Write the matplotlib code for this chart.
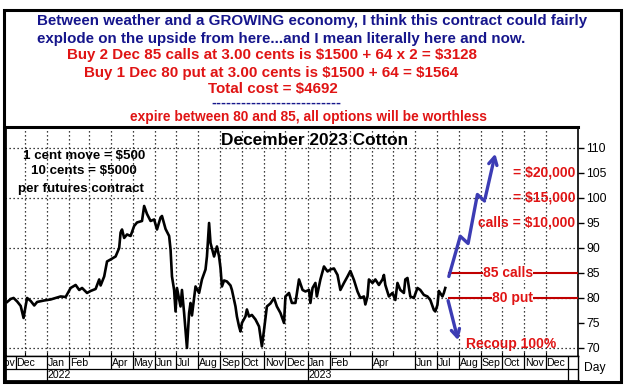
import numpy as np
import matplotlib
matplotlib.use("Agg")
import matplotlib.pyplot as plt
from matplotlib.patches import Rectangle

plt.rcParams['font.family'] = ['Liberation Sans', 'DejaVu Sans']
plt.rcParams['text.parse_math'] = False  # lots of $ signs in the labels

#~~~~~~~~~~~~~~~~~~~~~~~~~~~~~~~~~~~~~~~~~~~~~
# data (Dec 2023 cotton, cents/lb)
#~~~~~~~~~~~~~~~~~~~~~~~~~~~~~~~~~~~~~~~~~~~~~
price_dates = [
    '2021-11-06', '2021-11-11', '2021-11-15', '2021-11-20', '2021-11-25', '2021-11-29',
    '2021-12-02', '2021-12-04', '2021-12-09', '2021-12-14', '2021-12-18', '2021-12-28',
    '2022-01-06', '2022-01-13', '2022-01-20', '2022-01-27', '2022-02-03', '2022-02-10',
    '2022-02-15', '2022-02-19', '2022-02-26', '2022-03-03', '2022-03-10', '2022-03-15',
    '2022-03-17', '2022-03-22', '2022-03-26', '2022-03-31', '2022-04-07', '2022-04-12',
    '2022-04-14', '2022-04-16', '2022-04-19', '2022-04-23', '2022-04-28', '2022-05-03',
    '2022-05-07', '2022-05-14', '2022-05-17', '2022-05-21', '2022-05-26', '2022-05-31',
    '2022-06-04', '2022-06-09', '2022-06-11', '2022-06-16', '2022-06-21', '2022-06-23',
    '2022-06-25', '2022-06-28', '2022-06-30', '2022-07-02', '2022-07-07', '2022-07-09',
    '2022-07-12', '2022-07-14', '2022-07-16', '2022-07-19', '2022-07-21', '2022-07-23',
    '2022-07-28', '2022-08-02', '2022-08-06', '2022-08-11', '2022-08-13', '2022-08-16',
    '2022-08-18', '2022-08-23', '2022-08-27', '2022-08-30', '2022-09-01', '2022-09-03',
    '2022-09-06', '2022-09-10', '2022-09-15', '2022-09-17', '2022-09-20', '2022-09-22',
    '2022-09-24', '2022-09-27', '2022-09-29', '2022-10-01', '2022-10-06', '2022-10-08',
    '2022-10-11', '2022-10-15', '2022-10-20', '2022-10-25', '2022-10-29', '2022-11-01',
    '2022-11-05', '2022-11-10', '2022-11-15', '2022-11-19', '2022-11-24', '2022-11-29',
    '2022-12-01', '2022-12-06', '2022-12-10', '2022-12-15', '2022-12-20', '2022-12-25',
    '2022-12-29', '2023-01-03', '2023-01-05', '2023-01-08', '2023-01-12', '2023-01-14',
    '2023-01-19', '2023-01-24', '2023-01-29', '2023-02-02', '2023-02-07', '2023-02-12',
    '2023-02-16', '2023-02-21', '2023-02-26', '2023-03-02', '2023-03-07', '2023-03-12',
    '2023-03-16', '2023-03-21', '2023-03-23', '2023-03-26', '2023-03-28', '2023-04-02',
    '2023-04-06', '2023-04-11', '2023-04-16', '2023-04-18', '2023-04-20', '2023-04-25',
    '2023-04-30', '2023-05-04', '2023-05-07', '2023-05-11', '2023-05-16', '2023-05-18',
    '2023-05-21', '2023-05-25', '2023-05-30', '2023-06-04', '2023-06-08', '2023-06-13',
    '2023-06-18', '2023-06-22', '2023-06-27', '2023-06-29', '2023-07-02', '2023-07-04',
    '2023-07-09', '2023-07-11', '2023-07-13']
price_vals = [
    79.2, 79.8, 80.0, 79.3, 78.4, 76.0,
    78.5, 80.0, 79.4, 78.5, 79.2, 79.5,
    79.7, 80.0, 80.3, 80.2, 82.0, 82.6,
    81.6, 82.0, 81.0, 81.4, 81.8, 83.7,
    82.5, 84.3, 87.3, 87.7, 88.3, 90.0,
    93.1, 93.7, 92.0, 92.7, 92.4, 94.4,
    95.1, 95.4, 98.4, 96.8, 95.4, 95.7,
    93.7, 96.1, 96.4, 93.8, 92.4, 89.7,
    84.3, 81.6, 77.3, 82.0, 78.3, 81.6,
    77.0, 73.6, 70.0, 77.0, 79.0, 76.5,
    82.3, 81.0, 83.7, 85.7, 88.3, 95.0,
    91.0, 88.3, 90.3, 88.3, 86.0, 82.3,
    83.5, 83.3, 82.5, 81.6, 79.6, 78.3,
    76.3, 74.3, 73.3, 75.0, 76.3, 77.7,
    76.3, 76.6, 75.7, 74.3, 70.3, 73.6,
    78.3, 78.9, 80.0, 78.3, 77.0, 75.0,
    80.3, 81.0, 79.0, 79.0, 83.7, 81.6,
    81.3, 81.6, 79.0, 82.0, 83.0, 80.3,
    83.7, 86.3, 85.3, 85.7, 85.9, 84.6,
    81.6, 83.0, 84.3, 85.4, 83.6, 81.3,
    80.0, 80.3, 78.7, 80.3, 83.7, 83.0,
    83.7, 82.6, 83.7, 84.6, 82.6, 80.3,
    81.0, 79.6, 83.0, 81.6, 81.0, 83.7,
    84.0, 80.3, 80.0, 82.0, 81.6, 80.6,
    80.3, 79.6, 77.6, 77.3, 78.6, 81.4,
    80.3, 81.0, 82.0]

# hand drawn arrows
up_dates = ['2023-07-18', '2023-08-03', '2023-08-14', '2023-08-27', '2023-09-06', '2023-09-22']
up_vals = [84.3, 92.35, 90.9, 100.7, 99.4, 109.4]
down_dates = ['2023-07-16', '2023-08-01']
down_vals = [80.0, 71.0]

strikes = [85, 80]
strike_labels = ['85 calls', '80 put']
strike_start = '2023-07-18'

payoff_levels = [105, 100, 95]
payoff_labels = ['= $20,000', '= $15,000', 'calls = $10,000']

month_starts = ['2021-11-18', '2022-01-01', '2022-02-01', '2022-04-01', '2022-05-01',
                '2022-06-01', '2022-07-01', '2022-08-01', '2022-09-01', '2022-10-01',
                '2022-11-01', '2022-12-01', '2023-01-01', '2023-02-01', '2023-04-01',
                '2023-06-01', '2023-07-01', '2023-08-01', '2023-09-01', '2023-10-01',
                '2023-11-01', '2023-12-01']
month_names = ['Dec', 'Jan', 'Feb', 'Apr', 'May', 'Jun', 'Jul', 'Aug', 'Sep', 'Oct',
               'Nov', 'Dec', 'Jan', 'Feb', 'Apr', 'Jun', 'Jul', 'Aug', 'Sep', 'Oct',
               'Nov', 'Dec']
year_starts = ['2022-01-01', '2023-01-01']
year_names = ['2022', '2023']

header = [
    ('Between weather and a GROWING economy, I think this contract could fairly', 37, 20.5, '#16168c', 10.9),
    ('explode on the upside from here...and I mean literally here and now.', 37, 38.5, '#16168c', 10.9),
    ('Buy 2 Dec 85 calls at 3.00 cents is $1500 + 64 x 2 = $3128', 67, 55.5, '#e01414', 10.9),
    ('Buy 1 Dec 80 put at 3.00 cents is $1500 + 64 = $1564', 84, 73, '#e01414', 10.9),
    ('Total cost = $4692', 208, 89.5, '#e01414', 10.9),
    ('-' * 26, 211, 102.5, '#16168c', 10.5),
    ('expire between 80 and 85, all options will be worthless', 130, 117, '#e01414', 9.9),
]
notes = ['1 cent move = $500', '10 cents = $5000', 'per futures contract']

W, H = 626, 388
d = lambda s: np.array(s, dtype='datetime64[D]')

fig = plt.figure(figsize=(W / 100, H / 100), dpi=100)
fig.patch.set_facecolor('white')

# main price panel
L, R, T, B = 5, 578, 127, 356
ax = fig.add_axes([L / W, (H - B) / H, (R - L) / W, (B - T) / H])
ax.set_xlim(d('2021-11-03'), d('2024-01-15'))
ax.set_ylim(68.39, 114.2)

grid_months = np.arange(np.datetime64('2021-12'), np.datetime64('2024-01'), dtype='datetime64[M]').astype('datetime64[D]')
for g in grid_months:
    ax.axvline(g, color='black', lw=0.9, ls=(0, (1, 2.2)), zorder=1)
for y in range(70, 111, 10):
    ax.axhline(y, color='black', lw=0.9, ls=(0, (1, 2.2)), zorder=1)

ax.plot(d(price_dates), price_vals, color='black', lw=1.9, zorder=3)

# strike lines
for k, lab in zip(strikes, strike_labels):
    ax.plot([d(strike_start), d('2024-01-15')], [k, k], color='#c00000', lw=1.5, zorder=4)
    ax.text(d('2023-11-13'), k, lab, ha='right', va='center', color='#e01414',
            fontsize=10, fontweight='bold', zorder=5,
            bbox=dict(fc='white', ec='none', pad=0.3))

for lvl, lab in zip(payoff_levels, payoff_labels):
    ax.text(0.995, lvl, lab, transform=ax.get_yaxis_transform(), ha='right', va='center',
            color='#e01414', fontsize=10, fontweight='bold', zorder=5)
ax.text(d('2023-08-11'), 70.8, 'Recoup 100%', ha='left', va='center', color='#e01414',
        fontsize=10, fontweight='bold', zorder=5)

# arrows
blue = '#3c3cb4'
ax.plot(d(up_dates[:-1]), up_vals[:-1], color=blue, lw=2.4, zorder=6, solid_capstyle='round')
ax.annotate('', xy=(d(up_dates[-1]), up_vals[-1]), xytext=(d(up_dates[-2]), up_vals[-2]),
            arrowprops=dict(arrowstyle='->,head_length=0.55,head_width=0.3', color=blue, lw=2.4),
            zorder=6)
ax.annotate('', xy=(d(down_dates[-1]), down_vals[-1]), xytext=(d(down_dates[0]), down_vals[0]),
            arrowprops=dict(arrowstyle='->,head_length=0.55,head_width=0.3', color=blue, lw=2.4),
            zorder=6)

ax.text(0.541, 0.943, 'December 2023 Cotton', transform=ax.transAxes, ha='center', va='center',
        fontsize=12.4, fontweight='bold', color='black')
for (yy, xx), s in zip([(0.873, 0.138), (0.807, 0.138), (0.728, 0.133)], notes):
    ax.text(xx, yy, s, transform=ax.transAxes, ha='center', va='center',
            fontsize=9.6, fontweight='bold', color='black', zorder=5)

ax.yaxis.tick_right()
ax.set_yticks(range(70, 111, 5))
ax.tick_params(axis='y', direction='out', length=4, width=1, labelsize=8.7, pad=2)
ax.set_xticks(grid_months)
ax.set_xticklabels([])
ax.tick_params(axis='x', direction='in', length=3, width=0.8)
ax.spines['top'].set_linewidth(2.2)
ax.spines['left'].set_linewidth(2)
ax.spines['right'].set_linewidth(1.2)
ax.spines['bottom'].set_linewidth(1)

# date strip under the chart
B2 = 381
sax = fig.add_axes([L / W, (H - B2) / H, (R - L) / W, (B2 - B) / H], sharex=ax)
sax.set_ylim(0, 2)
sax.set_yticks([])
sax.tick_params(axis='x', bottom=False, labelbottom=False)
sax.axhline(1, color='black', lw=0.9)
sax.vlines(d(month_starts + ['2024-01-01']), 1, 2, color='black', lw=0.9)
for m, s in zip(month_starts, month_names):
    sax.text(d(m) + 1, 1.47, s, ha='left', va='center', fontsize=7.6)
sax.text(d(month_starts[0]) - 1, 1.47, 'Nov', ha='right', va='center', fontsize=7.6, clip_on=True)
sax.vlines(d(year_starts + ['2024-01-01']), 0, 1, color='black', lw=0.9)
for m, s in zip(year_starts, year_names):
    sax.text(d(m) + 1, 0.47, s, ha='left', va='center', fontsize=7.6)
for sp in sax.spines.values():
    sp.set_linewidth(1)
sax.spines['left'].set_linewidth(2)
sax.spines['bottom'].set_linewidth(2)

fig.text(584 / W, (H - 368) / H, 'Day', ha='left', va='center', fontsize=8.7)

for s, x0, y0, c, fs in header:
    fig.text(x0 / W, (H - y0) / H, s, ha='left', va='center', color=c,
             fontsize=fs, fontweight='bold')

fig.patches.append(Rectangle((3.5 / W, (H - 382) / H), 617 / W, 372 / H, fill=False,
                             lw=2.2, ec='black', transform=fig.transFigure, figure=fig))

fig.savefig('out.png', dpi=100)
